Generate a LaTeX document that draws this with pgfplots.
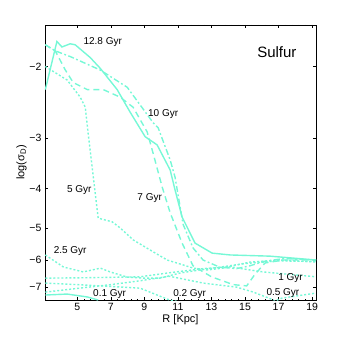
\documentclass[border=0pt]{standalone}
\usepackage{fontspec}
\setmainfont{Liberation Sans}
\usepackage{pgfplots}
\pgfplotsset{compat=1.18}
\usepackage{pgfplotstable}

\definecolor{aqua}{RGB}{118,248,214}

% R [kpc] and log(sigma_D)
\pgfplotstableread{
R v
3.10 -2.28
3.79 -1.735
4.09 -1.79
4.58 -1.758
4.88 -1.768
5.77 -1.90
6.37 -2.02
7.38 -2.28
8.15 -2.59
9.05 -2.98
9.76 -3.12
10.54 -3.60
10.83 -4.03
11.25 -4.70
12.02 -5.45
13.04 -5.77
14.11 -5.83
16.49 -5.87
19.23 -6.00
}\tA
\pgfplotstableread{
R v
3.10 -1.768
3.69 -1.83
4.58 -1.89
6.37 -2.04
7.98 -2.25
9.52 -2.75
9.82 -2.83
10.54 -3.40
10.83 -3.75
11.31 -4.90
11.90 -5.60
12.50 -6.00
13.50 -6.25
14.50 -6.30
15.30 -6.20
16.10 -6.05
17.30 -5.95
19.23 -6.00
}\tB
\pgfplotstableread{
R v
3.10 -1.768
3.69 -1.83
4.29 -2.04
4.76 -2.19
5.60 -2.28
6.55 -2.28
7.56 -2.38
8.33 -2.52
9.17 -2.90
9.52 -3.27
10.06 -3.96
10.54 -4.59
11.25 -5.45
11.90 -6.20
13.00 -6.60
14.30 -6.90
15.10 -6.95
15.60 -6.50
16.20 -6.10
17.30 -6.00
19.23 -6.00
}\tC
\pgfplotstableread{
R v
3.10 -2.00
4.40 -2.16
5.18 -2.38
5.48 -2.52
5.65 -2.92
5.89 -3.54
6.07 -4.10
6.25 -4.73
6.67 -4.78
7.08 -4.83
7.56 -5.00
8.33 -5.35
9.35 -5.67
10.36 -6.00
11.31 -6.17
11.90 -6.28
12.74 -6.35
13.69 -6.28
14.52 -6.17
15.30 -6.07
17.08 -6.00
19.23 -6.07
}\tD
\pgfplotstableread{
R v
3.10 -5.83
4.17 -6.24
5.36 -6.42
6.19 -6.31
6.37 -6.28
6.96 -6.42
7.98 -6.61
8.93 -6.65
9.94 -6.65
11.13 -6.46
12.30 -6.35
13.50 -6.25
15.00 -6.12
17.00 -6.03
19.23 -6.05
}\tE
\pgfplotstableread{
R v
3.10 -6.65
5.00 -6.64
7.00 -6.62
8.75 -6.60
10.50 -6.45
12.50 -6.30
14.10 -6.24
16.07 -6.42
19.23 -6.60
}\tF
\pgfplotstableread{
R v
3.10 -7.20
5.00 -7.05
7.00 -6.90
8.75 -6.75
10.50 -6.58
12.50 -6.84
14.50 -7.00
15.50 -7.20
16.70 -7.53
}\tG
\pgfplotstableread{
R v
3.10 -6.84
5.00 -6.90
7.00 -6.97
8.75 -7.04
10.50 -7.53
13.00 -7.90
16.00 -7.80
17.20 -7.45
19.23 -7.24
}\tH
\pgfplotstableread{
R v
3.10 -7.32
4.40 -7.28
5.60 -7.40
6.25 -7.53
}\tI

\begin{document}
\begin{tikzpicture}
\path[use as bounding box] (-45pt,-38pt) rectangle (304pt,300pt);
\begin{axis}[
  at={(0pt,0pt)}, anchor=south west,
  scale only axis, width=271pt, height=275pt,
  xmin=3.08, xmax=19.23, ymin=-7.53, ymax=-1.58,
  y coord trafo/.code={\pgfmathparse{-ln(-#1)}},
  y coord inv trafo/.code={\pgfmathparse{-exp(-#1)}},
  xtick={5,7,...,19},
  ytick={-7,-6,-5,-4,-3,-2},
  yticklabels={−7,−6,−5,−4,−3,−2},
  minor x tick num=4,
  tick align=inside,
  major tick length=3pt, minor tick length=1.5pt,
  tick style={black, line width=0.5pt},
  axis line style={line width=0.7pt},
  ticklabel style={font=\fontsize{10.5}{12}\selectfont},
  /pgf/number format/assume math mode=true,
  label style={font=\fontsize{11}{13}\selectfont},
  xlabel={R [Kpc]}, ylabel={log(σ\textsubscript{D})},
  xlabel style={yshift=3pt},
  ylabel style={yshift=-4pt},
  clip=true,
  every axis plot/.append style={aqua, line width=1.4pt},
]
\addplot[solid] table[x=R, y=v] {\tA};
\addplot[dash pattern=on 6pt off 2.5pt on 1.8pt off 2.5pt] table[x=R, y=v] {\tB};
\addplot[dash pattern=on 6pt off 4pt] table[x=R, y=v] {\tC};
\addplot[dash pattern=on 2pt off 2pt] table[x=R, y=v] {\tD};
\addplot[dash pattern=on 2pt off 2pt] table[x=R, y=v] {\tE};
\addplot[dash pattern=on 2pt off 2pt] table[x=R, y=v] {\tF};
\addplot[dash pattern=on 2pt off 2pt] table[x=R, y=v] {\tG};
\addplot[dash pattern=on 2pt off 2pt] table[x=R, y=v] {\tH};
\addplot[solid] table[x=R, y=v] {\tI};
\begin{scope}[font=\fontsize{10}{12}\selectfont]
\node at (axis cs:6.52,-1.74) {12.8 Gyr};
\node at (axis cs:10.12,-2.62) {10 Gyr};
\node at (axis cs:9.32,-4.22) {7 Gyr};
\node at (axis cs:5.12,-4.04) {5 Gyr};
\node at (axis cs:4.58,-5.70) {2.5 Gyr};
\node at (axis cs:6.93,-7.30) {0.1 Gyr};
\node at (axis cs:11.70,-7.26) {0.2 Gyr};
\node at (axis cs:17.26,-7.22) {0.5 Gyr};
\node at (axis cs:17.71,-6.63) {1 Gyr};
\end{scope}
\node[font=\fontsize{15}{17}\selectfont] at (axis cs:16.9,-1.84) {Sulfur};
\end{axis}
\end{tikzpicture}
\end{document}
